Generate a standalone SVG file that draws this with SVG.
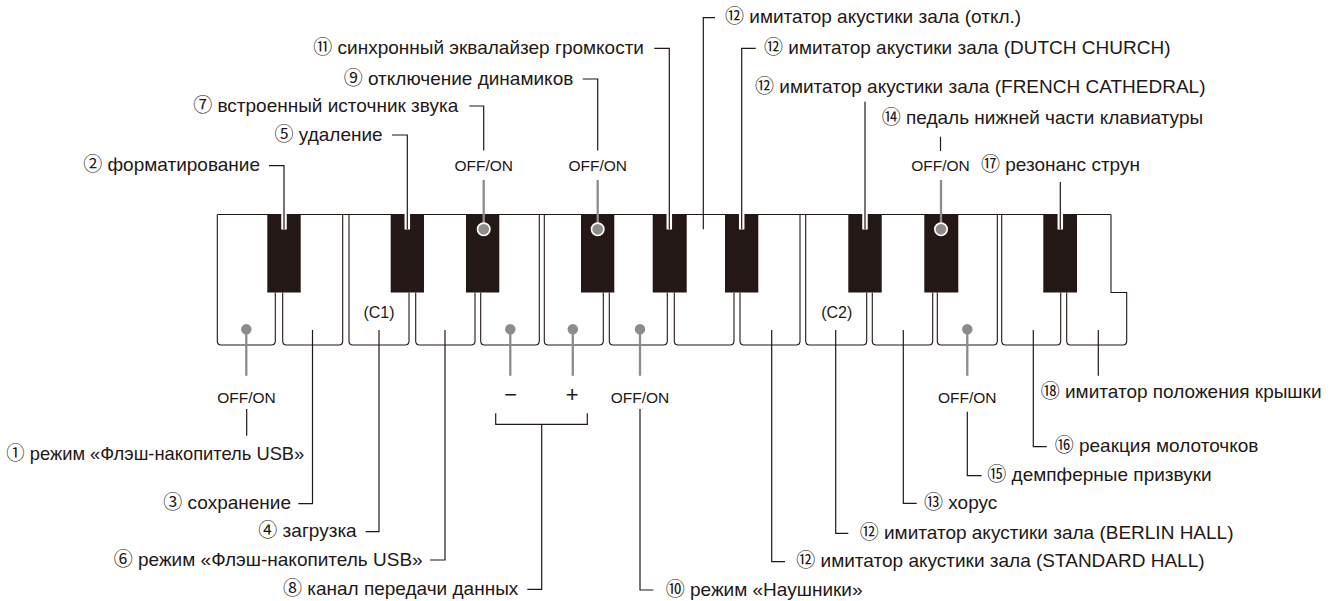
<svg xmlns="http://www.w3.org/2000/svg" width="1340" height="601" viewBox="0 0 1340 601">
<style>
.t{font-family:"Liberation Sans","Noto Sans CJK JP",sans-serif;font-size:19px;fill:#231815}
.e{text-anchor:end}
.o{font-family:"Liberation Sans","Noto Sans CJK JP",sans-serif;font-size:15.5px;fill:#231815;text-anchor:middle}
.pm{font-family:"Liberation Sans",sans-serif;font-size:22px;fill:#231815;text-anchor:middle}
.ln{fill:none;stroke:#231815;stroke-width:1.2}
.gl{fill:none;stroke:#8c8c8c;stroke-width:2.3}
.halo{fill:none;stroke:#fff;stroke-width:5.5}
.wk{fill:#fff;stroke:#231815;stroke-width:1.1}
.bk{fill:#231815}
.dot{fill:#8c8c8c}
.rdot{fill:#8c8c8c;stroke:#fff;stroke-width:1.6}
</style>
<rect width="1340" height="601" fill="#fff"/>
<g id="keyboard">
<path class="wk" d="M217.3,214.5 H1111"/>
<path class="wk" d="M217.3,214.5 V341 Q217.3,345 221.3,345 H271.3 Q275.3,345 275.3,341 V292.5"/>
<path class="wk" d="M282.7,292.5 V341 Q282.7,345 286.7,345 H338.7 Q342.7,345 342.7,341 V214.5"/>
<path class="wk" d="M349,214.5 V341 Q349,345 353,345 H405 Q409,345 409,341 V292.5"/>
<path class="wk" d="M415.7,292.5 V341 Q415.7,345 419.7,345 H471 Q475,345 475,341 V292.5"/>
<path class="wk" d="M480.7,292.5 V341 Q480.7,345 484.7,345 H535.3 Q539.3,345 539.3,341 V214.5"/>
<path class="wk" d="M544.3,214.5 V341 Q544.3,345 548.3,345 H599.3 Q603.3,345 603.3,341 V292.5"/>
<path class="wk" d="M609.3,292.5 V341 Q609.3,345 613.3,345 H663.3 Q667.3,345 667.3,341 V292.5"/>
<path class="wk" d="M674.3,292.5 V341 Q674.3,345 678.3,345 H730 Q734,345 734,341 V292.5"/>
<path class="wk" d="M740,292.5 V341 Q740,345 744,345 H796 Q800,345 800,341 V214.5"/>
<path class="wk" d="M805.7,214.5 V341 Q805.7,345 809.7,345 H862.7 Q866.7,345 866.7,341 V292.5"/>
<path class="wk" d="M872.3,292.5 V341 Q872.3,345 876.3,345 H928.7 Q932.7,345 932.7,341 V292.5"/>
<path class="wk" d="M937.3,292.5 V341 Q937.3,345 941.3,345 H993.3 Q997.3,345 997.3,341 V214.5"/>
<path class="wk" d="M1001.7,214.5 V341 Q1001.7,345 1005.7,345 H1056.7 Q1060.7,345 1060.7,341 V292.5"/>
<path class="wk" d="M1066.7,292.5 V341 Q1066.7,345 1070.7,345 H1122.7 Q1126.7,345 1126.7,341 V292.5 H1111 V214.5"/>
<rect class="bk" x="267.3" y="214" width="33.4" height="78.5"/>
<rect class="bk" x="390.7" y="214" width="33.3" height="78.5"/>
<rect class="bk" x="466" y="214" width="33.3" height="78.5"/>
<rect class="bk" x="581" y="214" width="33.3" height="78.5"/>
<rect class="bk" x="652.7" y="214" width="34" height="78.5"/>
<rect class="bk" x="725" y="214" width="33.3" height="78.5"/>
<rect class="bk" x="848.3" y="214" width="33.4" height="78.5"/>
<rect class="bk" x="924.3" y="214" width="34" height="78.5"/>
<rect class="bk" x="1043.3" y="214" width="33.7" height="78.5"/>
<text class="o" x="379" y="318" style="font-size:16px">(C1)</text>
<text class="o" x="836.7" y="318" style="font-size:16px">(C2)</text>
</g>
<g id="connectors">
<path class="halo" d="M284,214 V229.5 M407.3,214 V229.5 M669.3,214 V229.5 M741.7,214 V229.5 M865,214 V229.5 M1060.3,214 V229.5"/>
<path class="ln" d="M269,165.7 H284 V229.3"/>
<path class="ln" d="M392,135 H407.3 V229.3"/>
<path class="ln" d="M469.3,106 H483.7 V150.5"/>
<path class="ln" d="M582.7,79 H597.7 V150.5"/>
<path class="ln" d="M654.3,48.3 H669.3 V229.3"/>
<path class="ln" d="M715,17.7 H703.3 V229.3"/>
<path class="ln" d="M755.7,48.3 H741.7 V229.3"/>
<path class="ln" d="M865,101.7 V229.3"/>
<path class="ln" d="M940.5,136.7 V151"/>
<path class="ln" d="M1060.3,182 V229.3"/>
<path class="gl" d="M483.7,180 V229.3 M597.7,180 V229.3 M941,180 V229.3"/>
<circle class="rdot" cx="483.7" cy="229.3" r="6.2"/>
<circle class="rdot" cx="597.7" cy="229.3" r="6.2"/>
<circle class="rdot" cx="941" cy="229.3" r="6.2"/>
<path class="gl" d="M246.3,329.3 V375.7 M510.3,329.3 V375.7 M572.8,329.3 V375.7 M640,329.3 V375.7 M967.3,329.3 V375.7"/>
<circle class="dot" cx="246.3" cy="329.3" r="5.2"/>
<circle class="dot" cx="510.3" cy="329.3" r="5.2"/>
<circle class="dot" cx="572.8" cy="329.3" r="5.2"/>
<circle class="dot" cx="640" cy="329.3" r="5.2"/>
<circle class="dot" cx="967.3" cy="329.3" r="5.2"/>
<path class="ln" d="M246.7,409 V435.7"/>
<path class="ln" d="M312.5,330 V503.7 H298.3"/>
<path class="ln" d="M379,330 V531.7 H365.7"/>
<path class="ln" d="M445,330 V560 H430"/>
<path class="ln" d="M495.7,413.3 V424.3 H587.3 V413.3 M541.7,424.3 V589.3 H527.3"/>
<path class="ln" d="M640,409 V590 H653.3"/>
<path class="ln" d="M771.7,330 V561.7 H785"/>
<path class="ln" d="M835.7,330 V533.3 H848.3"/>
<path class="ln" d="M903.3,330 V503.3 H916.7"/>
<path class="ln" d="M967.3,411.7 V475.7 H981.7"/>
<path class="ln" d="M1033.3,330 V446.7 H1046.7"/>
<path class="ln" d="M1098.3,330 V375.7"/>
</g>
<g id="labels-top">
<text class="t e" x="644" y="53.8">⑪ синхронный эквалайзер громкости</text>
<text class="t e" x="573.3" y="84.5">⑨ отключение динамиков</text>
<text class="t e" x="458.3" y="111.5">⑦ встроенный источник звука</text>
<text class="t e" x="382.7" y="140.5">⑤ удаление</text>
<text class="t e" x="260" y="171.2">② форматирование</text>
<text class="t" x="725" y="23.2">⑫ имитатор акустики зала (откл.)</text>
<text class="t" x="764" y="53.8">⑫ имитатор акустики зала (DUTCH CHURCH)</text>
<text class="t" x="755" y="92.5">⑫ имитатор акустики зала (FRENCH CATHEDRAL)</text>
<text class="t" x="881.7" y="123.5">⑭ педаль нижней части клавиатуры</text>
<text class="t" x="981" y="171">⑰ резонанс струн</text>
<text class="o" x="483.7" y="171">OFF/ON</text>
<text class="o" x="597.7" y="171">OFF/ON</text>
<text class="o" x="940.5" y="171">OFF/ON</text>
</g>
<g id="labels-bottom">
<text class="o" x="246.5" y="402.5">OFF/ON</text>
<text class="o" x="640" y="402.5">OFF/ON</text>
<text class="o" x="967.3" y="402.5">OFF/ON</text>
<text class="pm" x="510.7" y="401.5">−</text>
<text class="pm" x="572.3" y="401.5">+</text>
<text class="t" x="6.3" y="459.5" textLength="298" lengthAdjust="spacingAndGlyphs">① режим «Флэш-накопитель USB»</text>
<text class="t e" x="291" y="509.2">③ сохранение</text>
<text class="t e" x="356.7" y="537.2">④ загрузка</text>
<text class="t e" x="422.7" y="565.5">⑥ режим «Флэш-накопитель USB»</text>
<text class="t e" x="518.3" y="594.8">⑧ канал передачи данных</text>
<text class="t" x="665.7" y="595.5">⑩ режим «Наушники»</text>
<text class="t" x="796.3" y="567.2">⑫ имитатор акустики зала (STANDARD HALL)</text>
<text class="t" x="859.7" y="538.8">⑫ имитатор акустики зала (BERLIN HALL)</text>
<text class="t" x="924" y="508.8">⑬ хорус</text>
<text class="t" x="987.3" y="481.2">⑮ демпферные призвуки</text>
<text class="t" x="1054.7" y="452.2">⑯ реакция молоточков</text>
<text class="t" x="1040.7" y="397.5">⑱ имитатор положения крышки</text>
</g>
</svg>
